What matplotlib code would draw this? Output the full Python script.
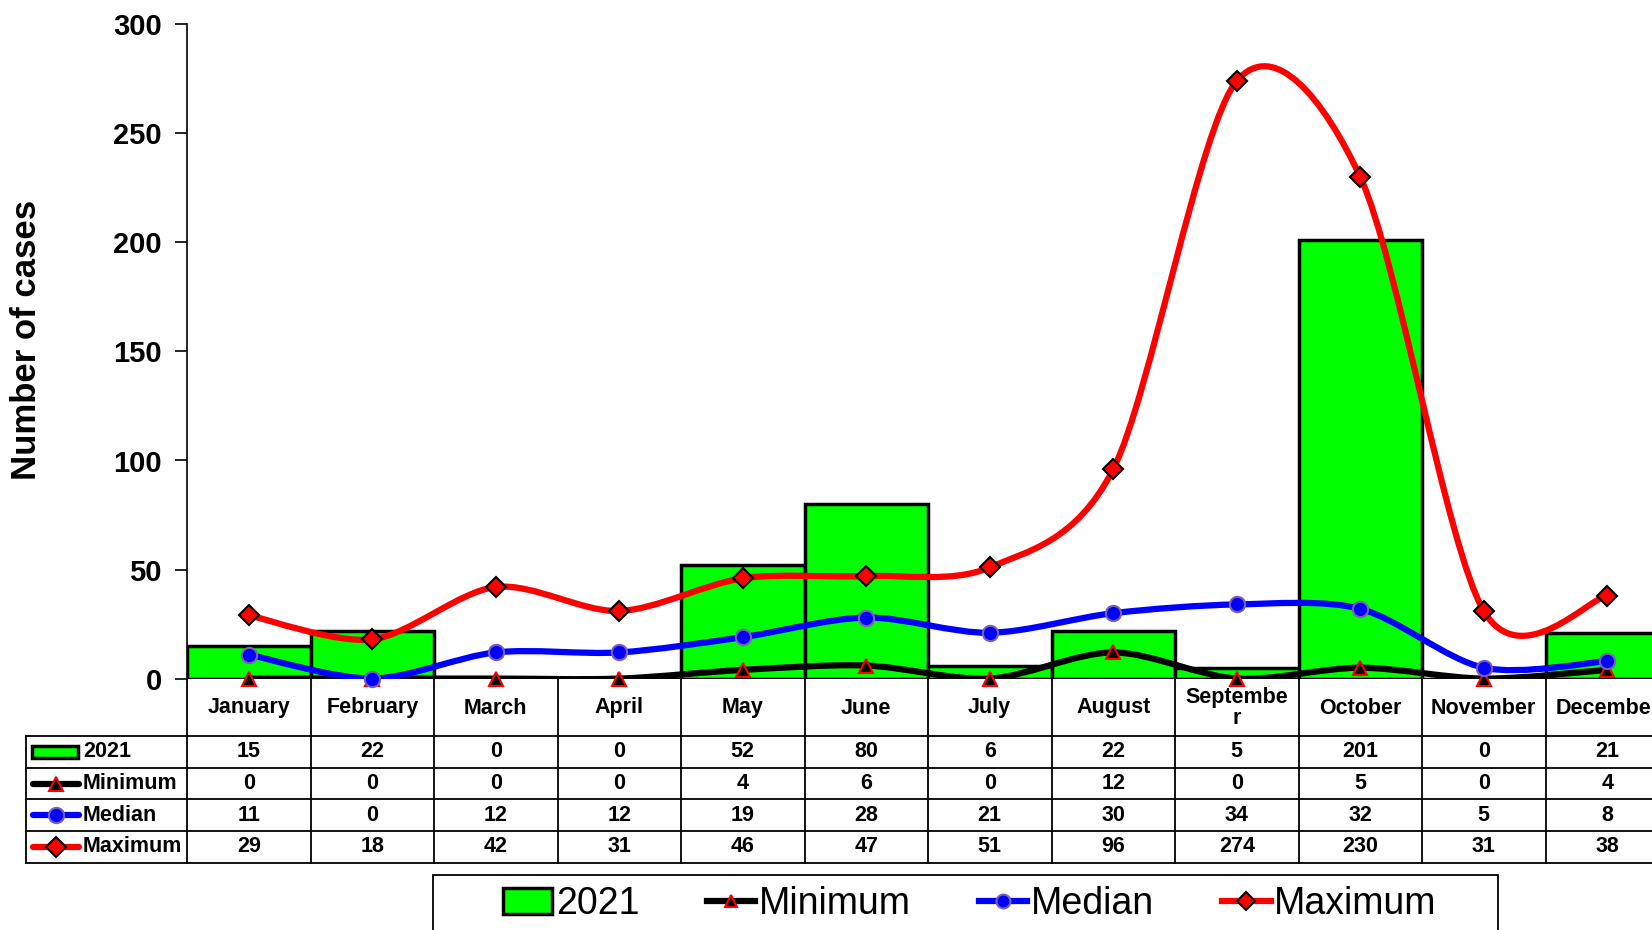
import numpy as np
import matplotlib.pyplot as plt
from matplotlib.path import Path
from matplotlib.patches import PathPatch, Rectangle
from matplotlib.lines import Line2D
from matplotlib.transforms import blended_transform_factory

plt.rcParams['font.family'] = ['Liberation Sans', 'DejaVu Sans']

# Данные
months = ['January', 'February', 'March', 'April', 'May', 'June', 'July',
          'August', 'Septembe\nr', 'October', 'November', 'December']
cases_2021 = [15, 22, 0, 0, 52, 80, 6, 22, 5, 201, 0, 21]
minimum = [0, 0, 0, 0, 4, 6, 0, 12, 0, 5, 0, 4]
median = [11, 0, 12, 12, 19, 28, 21, 30, 34, 32, 5, 8]
maximum = [29, 18, 42, 31, 46, 47, 51, 96, 274, 230, 31, 38]


def smooth_path(x, y, k=0.15):
    # сглаженная линия как у Excel: кубические кривые Безье
    n = len(x)
    verts = [(x[0], y[0])]
    codes = [Path.MOVETO]
    for i in range(n - 1):
        xa, ya = (x[i - 1], y[i - 1]) if i > 0 else (x[i], y[i])
        xb, yb = (x[i + 2], y[i + 2]) if i + 2 < n else (x[i + 1], y[i + 1])
        c1 = (x[i] + (x[i + 1] - xa) * k, y[i] + (y[i + 1] - ya) * k)
        c2 = (x[i + 1] - (xb - x[i]) * k, y[i + 1] - (yb - y[i]) * k)
        verts += [c1, c2, (x[i + 1], y[i + 1])]
        codes += [Path.CURVE4] * 3
    return Path(verts, codes)


W, H = 1652, 930
fig = plt.figure(figsize=(W / 100, H / 100), dpi=100)
ax_left, ax_right, ax_top, ax_bottom = 187, 1669, 24.3, 678.6
ax = fig.add_axes([ax_left / W, 1 - ax_bottom / H,
                   (ax_right - ax_left) / W, (ax_bottom - ax_top) / H])

x = np.arange(len(months))
ax.bar(x, cases_2021, width=1.0, color='#00ff00', edgecolor='black',
       linewidth=2.5, zorder=2)

series = [
    (minimum, 'black', '^', 'black', 'red', 'Minimum'),
    (median, 'blue', 'o', 'blue', '#7b5fb5', 'Median'),
    (maximum, 'red', 'D', 'red', 'black', 'Maximum'),
]
z = 3
for vals, col, mk, mfc, mec, name in series:
    ax.add_patch(PathPatch(smooth_path(x, vals), fill=False, edgecolor=col,
                           linewidth=4.5, capstyle='round', zorder=z))
    ms = 11 if mk == 'o' else 10
    ax.plot(x, vals, linestyle='none', marker=mk, markersize=ms,
            markerfacecolor=mfc, markeredgecolor=mec, markeredgewidth=1.5,
            zorder=z + 0.5, clip_on=False)
    z += 1

ax.set_xlim(-0.5, 11.5)
ax.set_ylim(0, 300)
ax.set_yticks(range(0, 301, 50))
ax.set_xticks([])
for s in ['top', 'right']:
    ax.spines[s].set_visible(False)
ax.spines['bottom'].set_visible(False)
ax.spines['left'].set_linewidth(1.2)
ax.tick_params(axis='y', direction='out', length=9, width=1.2, pad=9,
               labelsize=21)
for lab in ax.get_yticklabels():
    lab.set_fontweight('bold')

fig.text(26 / W, 1 - 340 / H, 'Number of cases', rotation=90, ha='center',
         va='center', fontsize=25, fontweight='bold')

# Таблица данных под графиком
tr = blended_transform_factory(ax.transData, fig.transFigure)
px_per_unit = (ax_right - ax_left) / 12
x_tab_left = -0.5 - (ax_left - 26) / px_per_unit


def fy(p):
    return 1 - p / H


row_lines = [736, 767.7, 799.3, 831, 862.7]
for yl in row_lines:
    ax.add_line(Line2D([x_tab_left, 11.5], [fy(yl)] * 2, transform=tr,
                       color='black', lw=1.3, clip_on=False))
ax.add_line(Line2D([x_tab_left] * 2, [fy(736), fy(862.7)], transform=tr,
                   color='black', lw=1.3, clip_on=False))
for xb in np.arange(-0.5, 11.6, 1.0):
    ax.add_line(Line2D([xb] * 2, [fy(ax_bottom), fy(862.7)], transform=tr,
                       color='black', lw=1.3, clip_on=False))

for i, m in enumerate(months):
    ax.text(i, fy(708), m, transform=tr, ha='center', va='center',
            fontsize=15.5, fontweight='bold', linespacing=1.05, clip_on=False)

table_rows = [cases_2021, minimum, median, maximum]
row_names = ['2021', 'Minimum', 'Median', 'Maximum']
for r, (vals, name) in enumerate(zip(table_rows, row_names)):
    yc = (row_lines[r] + row_lines[r + 1]) / 2
    for i, v in enumerate(vals):
        ax.text(i, fy(yc), str(v), transform=tr, ha='center', va='center',
                fontsize=15.5, fontweight='bold', clip_on=False)
    fig.text(83 / W, fy(yc), name, ha='left', va='center', fontsize=15.5,
             fontweight='bold')
    if r == 0:
        fig.patches.append(Rectangle((32 / W, fy(yc + 6)), 46 / W, 12 / H,
                                     transform=fig.transFigure,
                                     facecolor='#00ff00', edgecolor='black',
                                     lw=2.5))
    else:
        vals_s, col, mk, mfc, mec, _ = series[r - 1]
        fig.add_artist(Line2D([33 / W, 79 / W], [fy(yc)] * 2, color=col,
                              lw=4.5, solid_capstyle='round'))
        fig.add_artist(Line2D([56 / W], [fy(yc)], marker=mk,
                              markersize=10 if mk != 'o' else 11,
                              markerfacecolor=mfc, markeredgecolor=mec,
                              markeredgewidth=1.5))

# Легенда
fig.patches.append(Rectangle((433 / W, fy(940)), (1498 - 433) / W, 65 / H,
                             transform=fig.transFigure, facecolor='white',
                             edgecolor='black', lw=1.3))
handles = [Rectangle((0, 0), 1, 1, facecolor='#00ff00', edgecolor='black',
                     lw=2.5)]
for vals_s, col, mk, mfc, mec, name in series:
    handles.append(Line2D([], [], color=col, lw=4.5, marker=mk,
                          markersize=9 if mk != 'o' else 10,
                          markerfacecolor=mfc, markeredgecolor=mec,
                          markeredgewidth=1.5))
fig.legend(handles, row_names, loc='center', bbox_to_anchor=(970 / W, fy(904)),
           ncol=4, frameon=False, fontsize=27, handlelength=1.3,
           handletextpad=0.1, columnspacing=1.8, borderpad=0)

fig.savefig('out.png', dpi=100)
